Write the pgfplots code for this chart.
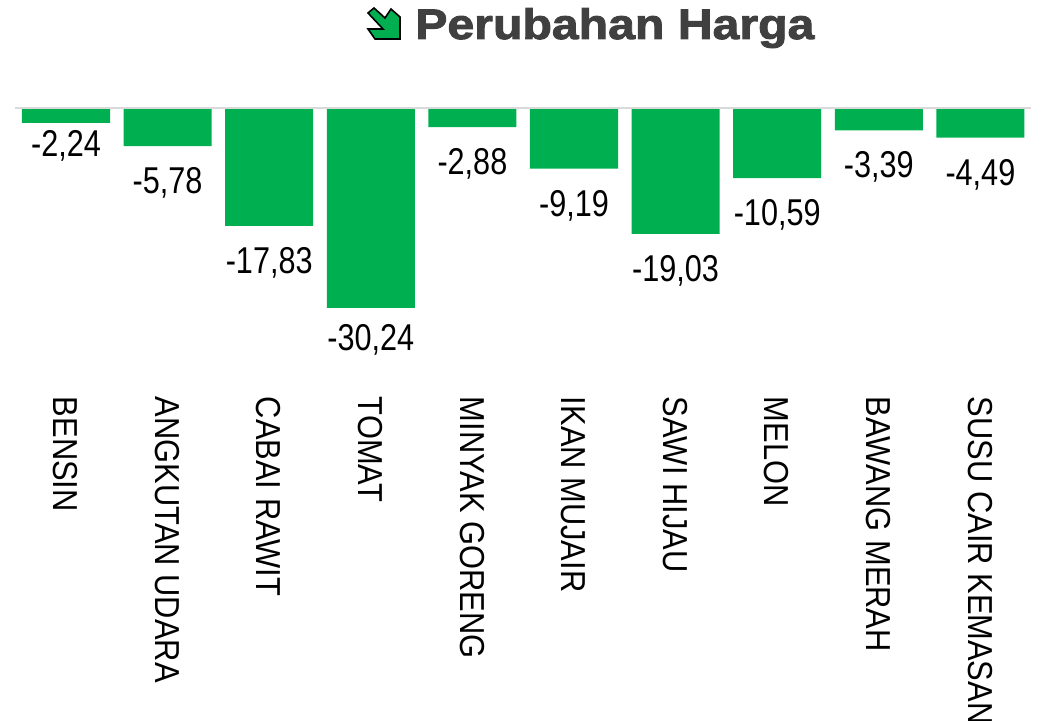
\documentclass[border=0pt]{standalone}
\usepackage{pgfplots}
\pgfplotsset{compat=1.18}
\usepackage{fontspec}
\setmainfont[FakeStretch=0.82]{Liberation Sans}
\newfontfamily\tickfont[FakeStretch=0.89]{Liberation Sans}
\newfontfamily\titlefont[FakeStretch=1.13,BoldFeatures={FakeBold=2.2}]{Liberation Sans}
\definecolor{ccGreen}{HTML}{00B050}
\definecolor{ccTitle}{HTML}{404040}
\pgfplotstableread{
x v
0 -2.24
1 -5.78
2 -17.83
3 -30.24
4 -2.88
5 -9.19
6 -19.03
7 -10.59
8 -3.39
9 -4.49
}\hargatable
\begin{document}
\begin{tikzpicture}
\useasboundingbox (0,0) rectangle (782.25pt,540.75pt);
% judul + ikon panah, dalam piksel dari kiri atas
\begin{scope}[x=0.75pt,y=-0.75pt,yshift=540.75pt]
\node[anchor=base west,inner sep=0pt,font=\titlefont\bfseries\fontsize{32}{32}\selectfont,text=ccTitle] at (415,39) {Perubahan Harga};
\draw[black,line width=1.2pt,fill=ccGreen,line join=miter]
  (368,13) -- (374,8) -- (385,18) -- (391,9) -- (400,17) -- (400,39) -- (375,39) -- (368,29) -- (383,29) -- cycle;
\end{scope}
\begin{axis}[at={(11.4pt,248.25pt)},anchor=south west,scale only axis,
    width=762pt,height=211.5pt,
    xmin=-0.5,xmax=9.5,ymin=-42.66,ymax=0,
    axis line style={draw=none},tick style={draw=none},
    ytick=\empty,xtick=data,
    xticklabels={BENSIN,ANGKUTAN UDARA,CABAI RAWIT,TOMAT,MINYAK GORENG,IKAN MUJAIR,SAWI HIJAU,MELON,BAWANG MERAH,SUSU CAIR KEMASAN},
    xticklabel style={rotate=-90,anchor=west,font=\tickfont\fontsize{26}{26}\selectfont,inner sep=0pt,yshift=-0.25pt,xshift=5pt},
    clip=false,
    /pgf/number format/.cd,use comma,fixed,fixed zerofill,precision=2,assume math mode=true]
\addplot[ybar,bar width=0.867,draw=none,fill=ccGreen,
    nodes near coords,
    every node near coord/.append style={font=\fontsize{28}{28}\selectfont,text=black,anchor=north,yshift=-2pt},
    coordinate style/.condition={x>0 && x!=3}{yshift=-10.5pt},
    coordinate style/.condition={x==3}{yshift=-6.75pt}]
    table[x=x,y=v]{\hargatable};
\draw[color=black!15,line width=1.2pt] (axis cs:-0.5,0) -- (axis cs:9.5,0);
\end{axis}
\end{tikzpicture}
\end{document}
